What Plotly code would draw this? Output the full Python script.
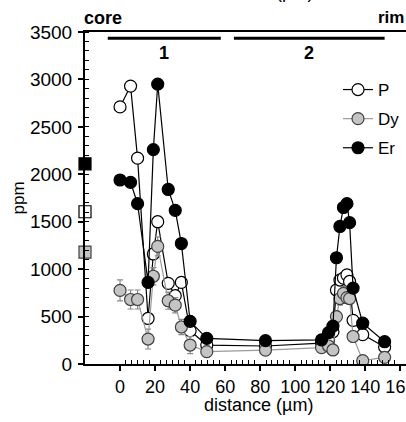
import numpy as np
import plotly.graph_objects as go

# distances (µm) along the traverse
dist = [0, 6, 10, 16, 19, 21.5, 27.5, 31.5, 35, 40, 49.5, 83,
        115, 119, 121.5, 123.5, 125.5, 127.5, 129.5, 131, 133, 138.5, 151]
P_ppm = [2710, 2930, 2170, 480, 1160, 1500, 850, 720, 860, 350, 200, 190,
         220, 250, 340, 780, 885, 905, 940, 870, 460, 310, 180]
Dy_ppm = [776, 680, 680, 263, 925, 1240, 667, 620, 390, 200, 130, 147,
          172, 190, 148, 500, 690, 745, 700, 690, 290, 35, 70]
Dy_err = [110, 100, 100, 105, 90, 100, 90, 80, 80, 90, 60, 50,
          50, 60, 50, 60, 70, 70, 60, 60, 60, 40, 40]
Er_ppm = [1940, 1915, 1690, 860, 2260, 2950, 1840, 1620, 1270, 450, 270, 246,
          255, 330, 400, 1120, 1450, 1650, 1690, 1490, 800, 430, 235]

# bulk / reference values shown as squares
core_x = [-20, -20, -20]
core_vals = [1605, 1180, 2110]      # P, Dy, Er
rim_x = [164.3, 164.3]
rim_vals = [370, 250]               # P, Dy

x_ticks = [0, 20, 40, 60, 80, 100, 120, 140, 160]
zone_segments = [(-7, 57.5, "1"), (65, 151, "2")]

FONT = "Liberation Sans, Arial, sans-serif"
fig = go.Figure()

fig.add_trace(go.Scatter(
    x=dist, y=P_ppm, mode="lines+markers", name="P",
    line=dict(color="black", width=1.2),
    marker=dict(size=12, color="white", line=dict(color="black", width=1.2)),
    legendgroup="P"))
fig.add_trace(go.Scatter(
    x=dist, y=Dy_ppm, mode="lines+markers", name="Dy",
    line=dict(color="#9a9a9a", width=1.2),
    marker=dict(size=12, color="#c4c4c4", line=dict(color="#404040", width=1.2)),
    error_y=dict(type="data", array=Dy_err, color="#8a8a8a", thickness=1.2, width=3),
    legendgroup="Dy"))
fig.add_trace(go.Scatter(
    x=dist, y=Er_ppm, mode="lines+markers", name="Er",
    line=dict(color="black", width=1.2),
    marker=dict(size=12, color="black", line=dict(color="black", width=1.2)),
    legendgroup="Er"))

fig.add_trace(go.Scatter(
    x=core_x, y=core_vals, mode="markers", showlegend=False, cliponaxis=False,
    marker=dict(symbol="square", size=12,
                color=["white", "#c4c4c4", "black"],
                line=dict(color=["black", "#404040", "black"], width=1.2))))
fig.add_trace(go.Scatter(
    x=rim_x, y=rim_vals, mode="markers", showlegend=False, cliponaxis=False,
    marker=dict(symbol="square", size=12,
                color=["white", "#c4c4c4"],
                line=dict(color=["#303030", "#303030"], width=1.5))))

minor_vals = [v for v in np.arange(0, 163, 20 / 6) if min(abs(v - t) for t in x_ticks) > 0.5]

fig.update_xaxes(
    range=[-20, 163.2], showline=True, linecolor="black", linewidth=2, mirror=True,
    tickmode="array", tickvals=x_ticks, ticks="outside", ticklen=5, tickwidth=1.5,
    tickcolor="black", showgrid=False, zeroline=False, ticklabeloverflow="allow",
    automargin=False,
    tickfont=dict(family=FONT, size=18, color="black"),
    minor=dict(tickmode="array", tickvals=minor_vals, ticks="inside", ticklen=4,
               tickwidth=1, tickcolor="black", showgrid=False))
fig.update_yaxes(
    range=[0, 3500], showline=True, linecolor="black", linewidth=2,
    dtick=500, ticks="outside", ticklen=5, tickwidth=1.5, tickcolor="black",
    showgrid=False, zeroline=False, ticklabelstandoff=2, automargin=False,
    tickfont=dict(family=FONT, size=19, color="black"),
    minor=dict(dtick=100, ticks="inside", ticklen=4, tickwidth=1, tickcolor="black",
               showgrid=False))

for x0, x1, lab in zone_segments:
    fig.add_shape(type="line", xref="x", yref="y", x0=x0, x1=x1, y0=3435, y1=3435,
                  line=dict(color="black", width=3))
    fig.add_annotation(x=(x0 + x1) / 2, y=3275, xref="x", yref="y", text="<b>%s</b>" % lab,
                       showarrow=False, font=dict(family=FONT, size=18, color="black"))

ann = [
    dict(text="<b>core</b>", x=(82 - 85) / 321, y=(364 - 18) / 332, xanchor="left", size=18),
    dict(text="<b>rim</b>", x=(406 - 85) / 321, y=(364 - 18) / 332, xanchor="right", size=17),
    dict(text="distance (µm)", x=(258 - 85) / 321, y=(364 - 405) / 332, xanchor="center", size=18),
    dict(text="distance (µm)", x=(258 - 85) / 321, y=(364 + 8) / 332, xanchor="center", size=18),
]
for a in ann:
    sz = a.pop("size")
    fig.add_annotation(xref="paper", yref="paper", showarrow=False, yanchor="middle",
                       font=dict(family=FONT, size=sz, color="black"), **a)
fig.add_annotation(xref="paper", yref="paper", x=(6 - 85) / 321, y=0.5, text="ppm",
                   textangle=-90, showarrow=False, xanchor="left",
                   font=dict(family=FONT, size=17, color="black"))

fig.update_layout(
    width=406, height=422, margin=dict(l=85, r=0, t=32, b=58, autoexpand=False),
    paper_bgcolor="white", plot_bgcolor="white",
    font=dict(family=FONT, size=17, color="black"),
    legend=dict(x=(338 - 85) / 321, y=(364 - 72) / 332, xanchor="left", yanchor="top",
                bgcolor="rgba(0,0,0,0)", tracegroupgap=4,
                font=dict(family=FONT, size=17, color="black")),
)

fig.write_html("out.html")
